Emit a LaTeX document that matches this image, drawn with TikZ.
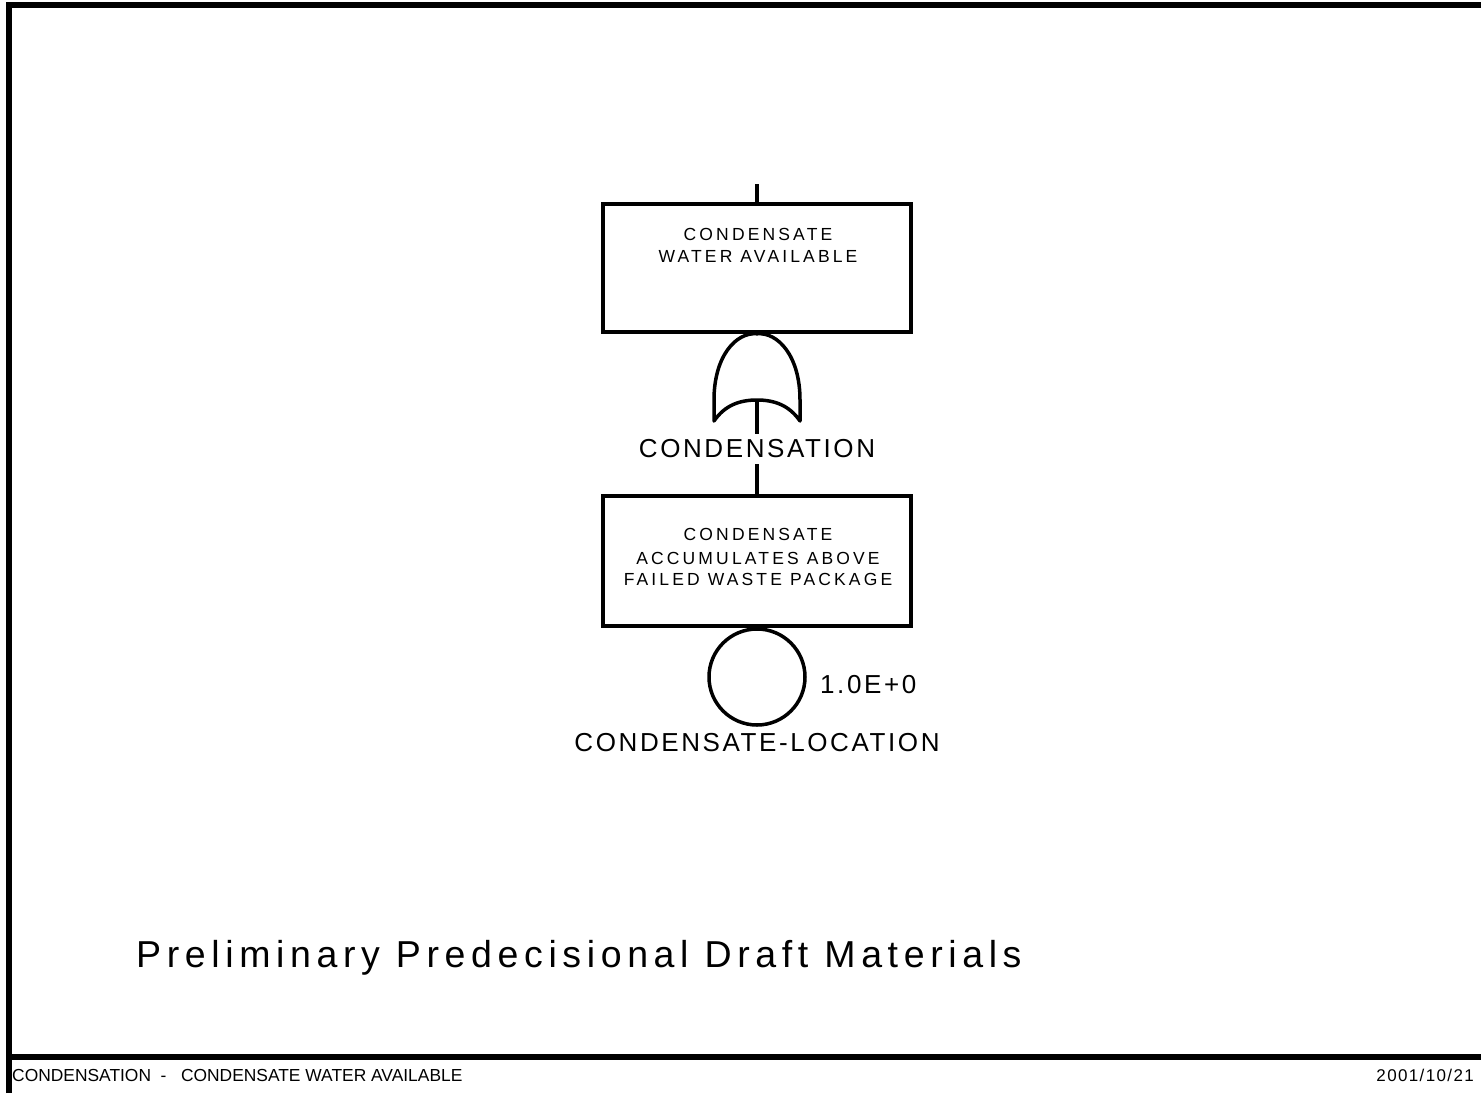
\documentclass[tikz,border=0pt]{standalone}
\usepackage{fontspec}
\setmainfont{Liberation Sans}
\newfontfamily\boxfont[LetterSpace=18]{Liberation Sans}
\newfontfamily\labfont[LetterSpace=10]{Liberation Sans}
\newfontfamily\draftfont[LetterSpace=15]{Liberation Sans}
\newfontfamily\datefont[LetterSpace=8]{Liberation Sans}
\begin{document}
\begin{tikzpicture}[x=1pt,y=-1pt]
\tikzset{
  frame/.style={line width=6pt},
  eventbox/.style={draw, rectangle, line width=3.5pt, minimum width=308pt, inner sep=0pt},
  gatestyle/.style={line width=3.5pt, line join=round, line cap=round},
  conn/.style={line width=3.5pt},
  boxtext/.style={anchor=base, inner sep=0pt, font=\boxfont\fontsize{17.5}{20}\selectfont},
  labtext/.style={anchor=base, inner sep=0pt, font=\labfont\fontsize{26}{31}\selectfont},
  foot/.style={inner sep=0pt, font=\fontsize{17.4}{20}\selectfont},
}
\useasboundingbox (0,0) rectangle (1481,1093);
% frame
\draw[frame] (9,1093) -- (9,5) -- (1481,5);
\draw[frame] (9,1057) -- (1481,1057);

% top event
\node[eventbox, minimum height=128pt] (ev1) at (757,268) {};
\node[boxtext] (ev1a) at (758,240.5) {CONDENSATE};
\node[boxtext] (ev1b) at (758,262.5) {WATER AVAILABLE};
\coordinate (topin) at (757,184);
\draw[conn] (topin) -- (ev1.north);

% OR gate
\coordinate (gout) at (757,400);
\draw[gatestyle] (714,421) -- (714,400) .. controls (714,356) and (736,332) .. (ev1.south)
  .. controls (778,332) and (800,356) .. (800,400) -- (800,421)
  .. controls (789,405) and (774,400) .. (gout)
  .. controls (740,400) and (725,405) .. (714,421) -- cycle;

% second event
\node[eventbox, minimum height=130pt] (ev2) at (757,561) {};
\node[boxtext] (ev2a) at (758,540) {CONDENSATE};
\node[boxtext] (ev2b) at (758,564) {ACCUMULATES ABOVE};
\node[boxtext] (ev2c) at (758,585.7) {FAILED WASTE PACKAGE};
\draw[conn] (gout) -- (ev2.north);
\node[labtext, fill=white, inner sep=6pt] (gname) at (757,457.7) {CONDENSATION};

% basic event
\node[draw, circle, line width=3.5pt, minimum size=96pt, inner sep=0pt] (be) at (757,677) {};
\node[labtext, anchor=base west] (prob) at (820,693.3) {1.0E+0};
\node[labtext] (bename) at (757,751.7) {CONDENSATE-LOCATION};

% draft note
\node[anchor=base west, inner sep=0pt, font=\draftfont\fontsize{37.5}{45}\selectfont] (draft) at (136,967) {Preliminary Predecisional Draft Materials};

% footer
\node[foot, anchor=base west] (ftitle) at (12,1081.5) {CONDENSATION\ \ -\ \ \ CONDENSATE WATER AVAILABLE};
\node[foot, anchor=base east, font=\datefont\fontsize{17}{20}\selectfont] (fdate) at (1474,1081.5) {2001/10/21};
\end{tikzpicture}
\end{document}
